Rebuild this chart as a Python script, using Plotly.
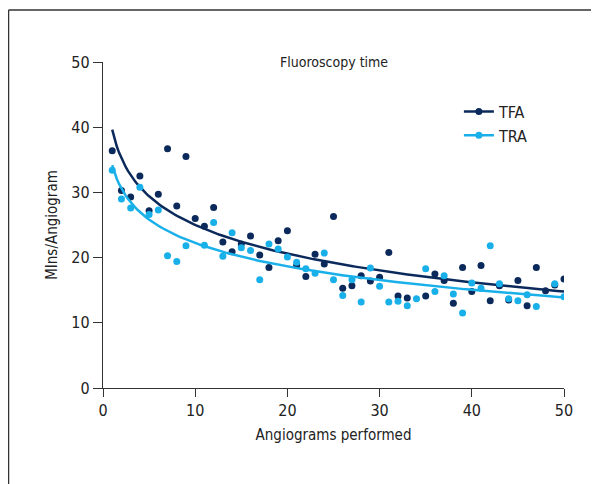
import numpy as np
import plotly.graph_objects as go

angiograms = list(range(1, 51))
tfa = [36.4, 30.3, 29.3, 32.5, 27.2, 29.7, 36.7, 27.9, 35.5, 26.0,
       24.8, 27.7, 22.4, 20.9, 22.1, 23.3, 20.4, 18.5, 22.6, 24.1,
       18.8, 17.1, 20.5, 19.0, 26.3, 15.3, 15.7, 17.2, 16.4, 17.0,
       20.8, 14.1, 13.8, None, 14.1, 17.5, 16.5, 13.0, 18.5, 14.8,
       18.8, 13.4, 15.7, 13.5, 16.5, 12.6, 18.5, 14.9, 15.8, 16.7]
tra = [33.4, 29.0, 27.6, 30.8, 26.6, 27.3, 20.3, 19.4, 21.8, None,
       21.9, 25.4, 20.2, 23.8, 21.5, 21.1, 16.6, 22.1, 21.3, 20.1,
       19.3, 18.3, 17.6, 20.7, 16.6, 14.2, 16.6, 13.2, 18.4, 15.6,
       13.2, 13.3, 12.6, 13.7, 18.3, 14.8, 17.2, 14.4, 11.5, 16.1,
       15.3, 21.8, 16.0, 13.7, 13.4, 14.3, 12.5, None, 16.0, 14.0]
series_names = ["TFA", "TRA"]
x_ticks = [0, 10, 20, 30, 40, 50]
y_ticks = [0, 10, 20, 30, 40, 50]

colors = {"TFA": "#0b2a5b", "TRA": "#19b0ea"}
FONT = "Liberation Sans Narrow, DejaVu Sans Condensed, Arial Narrow, sans-serif"


def log_fit(xs, ys):
    pts = [(a, b) for a, b in zip(xs, ys) if b is not None]
    xa = np.array([p[0] for p in pts], dtype=float)
    ya = np.array([p[1] for p in pts], dtype=float)
    slope, intercept = np.polyfit(np.log(xa), ya, 1)
    xg = np.linspace(min(xa), max(xa), 200)
    return xg, intercept + slope * np.log(xg)


fig = go.Figure()
for name, vals in zip(series_names, [tfa, tra]):
    c = colors[name]
    xg, yg = log_fit(angiograms, vals)
    fig.add_trace(go.Scatter(x=xg, y=yg, mode="lines", line=dict(color=c, width=2.5),
                             showlegend=False, hoverinfo="skip"))
    fig.add_trace(go.Scatter(x=angiograms, y=vals, mode="markers",
                             marker=dict(color=c, size=7), showlegend=False, name=name))
    fig.add_trace(go.Scatter(x=[None], y=[None], mode="lines+markers", name=name,
                             line=dict(color=c, width=2.5), marker=dict(color=c, size=7)))

axis_common = dict(showgrid=False, zeroline=False, showline=True, linecolor="#333",
                   linewidth=1.3, ticks="outside", tickcolor="#333", tickwidth=1.3,
                   tickfont=dict(size=16, color="#222", family=FONT))
fig.update_xaxes(range=[0, 50], tickvals=x_ticks, ticklen=8,
                 title=dict(text="Angiograms performed", font=dict(size=15, color="#222", family=FONT),
                            standoff=10),
                 **axis_common)
fig.update_yaxes(range=[0, 50], tickvals=y_ticks, ticklen=9,
                 title=dict(text="MIns/Angiogram", font=dict(size=15, color="#222", family=FONT),
                            standoff=10),
                 **axis_common)

fig.add_annotation(text="Fluoroscopy time", xref="paper", yref="paper", x=0.5, y=1.0,
                   xanchor="center", yanchor="middle", showarrow=False,
                   font=dict(size=14, color="#222", family=FONT))

# page has an 8px body margin, so figure coords = screen coords - 8
L, T, W, H = 95.3, 53.8, 461.0, 326.5
def px_x(p):
    return (p - 8 - L) / W
def px_y(p):
    return (T + H - (p - 8)) / H

fig.add_shape(type="line", xref="paper", yref="paper", x0=px_x(8.8), x1=px_x(620), y0=px_y(9.8), y1=px_y(9.8),
              line=dict(color="#333", width=1.5))
fig.add_shape(type="line", xref="paper", yref="paper", x0=px_x(8.8), x1=px_x(8.8), y0=px_y(9.8), y1=px_y(500),
              line=dict(color="#333", width=1.5))

fig.update_layout(
    width=591, height=476,
    margin=dict(l=95, r=35, t=54, b=96),
    paper_bgcolor="white", plot_bgcolor="white",
    font=dict(family=FONT, color="#222"),
    legend=dict(x=0.772, y=0.90, xanchor="left", yanchor="top", bgcolor="rgba(0,0,0,0)",
                font=dict(size=16, color="#222", family=FONT), tracegroupgap=0, itemwidth=30),
)

fig.write_html("out.html")
